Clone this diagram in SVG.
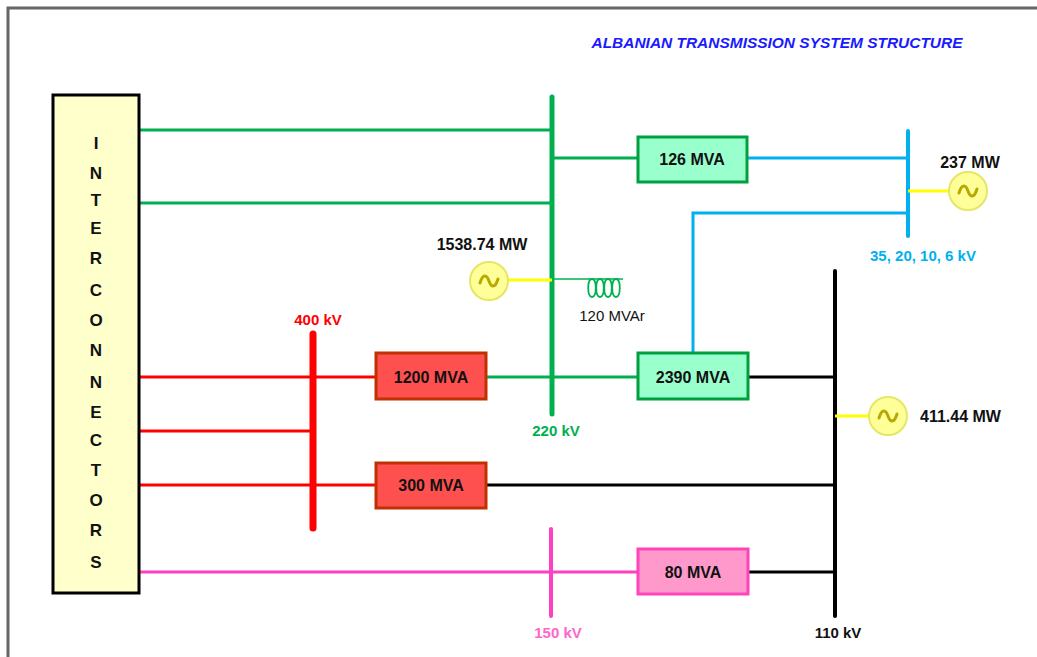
<svg xmlns="http://www.w3.org/2000/svg" width="1037" height="657" viewBox="0 0 1037 657">
<style>
.lbl{font-family:"Liberation Sans",Arial,sans-serif;font-weight:bold;font-size:16px;fill:#111;text-anchor:middle}
.lt{text-anchor:start}
.big{font-size:17px}
.vl{font-family:"Liberation Sans",Arial,sans-serif;font-weight:bold;font-size:15px;text-anchor:middle}
.box{stroke-width:3}
.g{stroke:#00b050;fill:none}
.r{stroke:#ff0000;fill:none}
.k{stroke:#000;fill:none}
.b{stroke:#00b0f0;fill:none}
.p{stroke:#ff40c0;fill:none}
.y{stroke:#ffff00;fill:none;stroke-width:3}
.gen{fill:#ffff99;stroke:#e6e666;stroke-width:2}
.wave{fill:none;stroke:#b8a800;stroke-width:3;stroke-linecap:round}
</style>
<defs>
<g id="gensym">
<circle r="19" class="gen"/>
<path class="wave" d="M-9,2 C-6,-8 -2,-6 0,0 C2,6 6,8 9,-2"/>
</g>
</defs>
<rect width="1037" height="657" fill="#fff"/>
<path d="M8,657 V8 H1037" fill="none" stroke="#666" stroke-width="3"/>
<text x="777" y="48" font-family="'Liberation Sans',Arial,sans-serif" font-weight="bold" font-style="italic" font-size="14.5" fill="#1a1aff" text-anchor="middle" textLength="371" lengthAdjust="spacingAndGlyphs">ALBANIAN TRANSMISSION SYSTEM STRUCTURE</text>

<g id="connectors">
<path class="g" stroke-width="3" d="M139,130 H552 M139,203 H552 M552,158 H638 M486,377 H638"/>
<path class="g" stroke-width="5" stroke-linecap="round" d="M552,97 V414"/>
<path class="g" stroke-width="1.5" d="M552,279 H623"/>
<path class="g" stroke-width="1.8" d="M592,279 C587,279 587,297 592,297 C597,297 597,279 592,279 M600,279 C595,279 595,297 600,297 C605,297 605,279 600,279 M608,279 C603,279 603,297 608,297 C613,297 613,279 608,279 M616,279 C611,279 611,297 616,297 C621,297 621,279 616,279"/>
<path class="b" stroke-width="3" d="M747,158 H908 M908,213 H693 V353"/>
<path class="b" stroke-width="4" stroke-linecap="round" d="M908,131 V236"/>
<path class="r" stroke-width="3" d="M139,377 H376 M139,431 H313 M139,485 H376"/>
<path class="r" stroke-width="7" stroke-linecap="round" d="M313,334 V528"/>
<path class="k" stroke-width="3" d="M748,377 H835 M486,485 H835 M748,572 H835"/>
<path class="k" stroke-width="4" stroke-linecap="round" d="M835,271 V616"/>
<path class="p" stroke-width="3" d="M139,572 H638"/>
<path class="p" stroke-width="4" stroke-linecap="round" d="M551,529 V616"/>
<path class="y" d="M508,280 H552 M908,191 H950 M835,416 H870"/>
</g>

<g id="interconnectors">
<rect x="53" y="95" width="86" height="498" fill="#ffffcc" stroke="#000" stroke-width="3"/>
<g>
<text class="lbl big" x="96" y="149">I</text><text class="lbl big" x="96" y="179">N</text><text class="lbl big" x="96" y="206">T</text><text class="lbl big" x="96" y="234">E</text><text class="lbl big" x="96" y="264">R</text><text class="lbl big" x="96" y="296">C</text><text class="lbl big" x="96" y="326">O</text><text class="lbl big" x="96" y="356">N</text><text class="lbl big" x="96" y="388">N</text><text class="lbl big" x="96" y="418">E</text><text class="lbl big" x="96" y="446">C</text><text class="lbl big" x="96" y="476">T</text><text class="lbl big" x="96" y="506">O</text><text class="lbl big" x="96" y="536">R</text><text class="lbl big" x="96" y="568">S</text>
</g>
</g>

<g id="t126"><rect x="638" y="137" width="109" height="45" fill="#99ffcc" stroke="#00a040" class="box"/><text class="lbl" x="692" y="165">126 MVA</text></g>
<g id="t1200"><rect x="376" y="353" width="110" height="46" fill="#ff5050" stroke="#c03000" class="box"/><text class="lbl" x="431" y="383">1200 MVA</text></g>
<g id="t2390"><rect x="638" y="353" width="110" height="46" fill="#99ffcc" stroke="#00a040" class="box"/><text class="lbl" x="693" y="383">2390 MVA</text></g>
<g id="t300"><rect x="376" y="463" width="110" height="45" fill="#ff5050" stroke="#c03000" class="box"/><text class="lbl" x="431" y="491">300 MVA</text></g>
<g id="t80"><rect x="638" y="549" width="110" height="45" fill="#ff99cc" stroke="#ff44bb" class="box"/><text class="lbl" x="693" y="578">80 MVA</text></g>

<g id="g1538"><use href="#gensym" x="489" y="281"/><text class="lbl" x="482" y="250">1538.74 MW</text></g>
<g id="g237"><use href="#gensym" x="968" y="191"/><text class="lbl" x="970" y="168">237 MW</text></g>
<g id="g411"><use href="#gensym" x="888" y="416"/><text class="lbl lt" x="920" y="422">411.44 MW</text></g>
<g id="reactor"><text x="612" y="321" font-family="'Liberation Sans',Arial,sans-serif" font-size="15" fill="#111" text-anchor="middle">120 MVAr</text></g>

<g id="buslabels">
<text class="vl" x="318" y="325" fill="#ff0000">400 kV</text>
<text class="vl" x="556" y="436" fill="#00b050">220 kV</text>
<text class="vl" x="923" y="261" fill="#00b0f0">35, 20, 10, 6 kV</text>
<text class="vl" x="558" y="638" fill="#ff66cc">150 kV</text>
<text class="vl" x="838" y="638" fill="#111">110 kV</text>
</g>
</svg>
